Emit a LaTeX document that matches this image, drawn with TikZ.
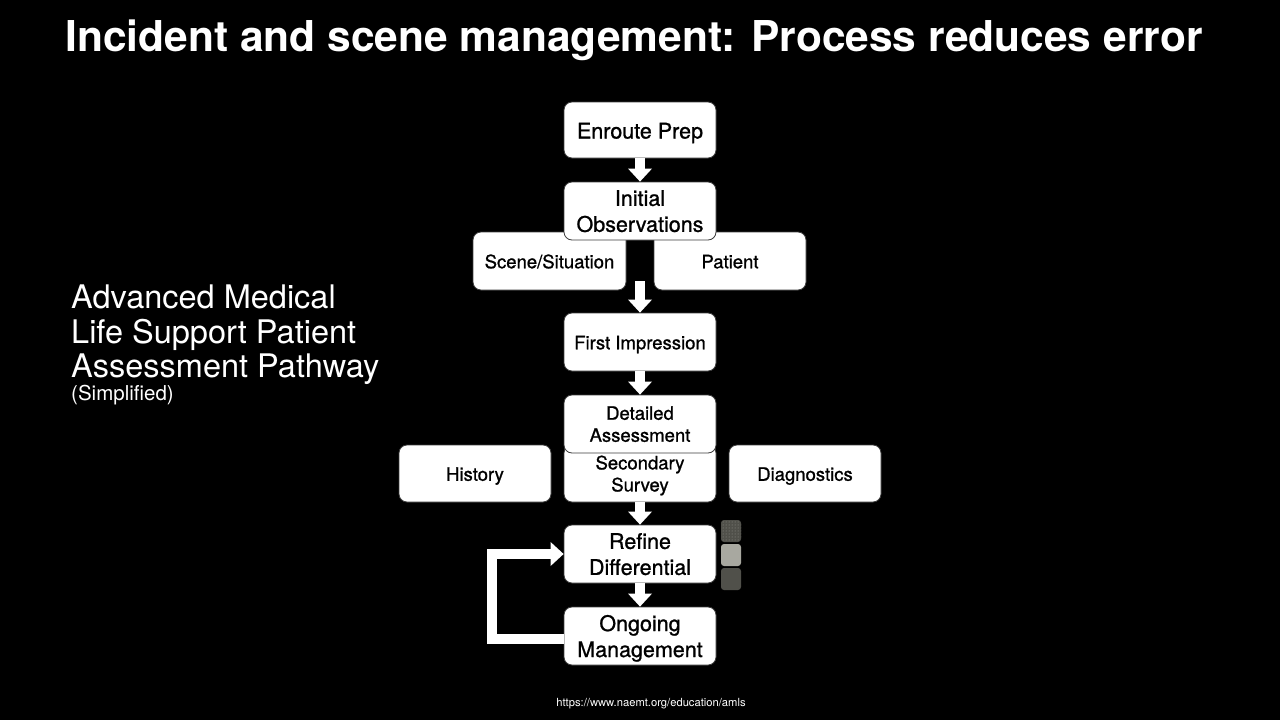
\documentclass[tikz,border=0pt]{standalone}
\usepackage{fontspec}
\setmainfont{TeX Gyre Heros}
\newfontfamily\medfont[FakeBold=1]{TeX Gyre Heros}
\usetikzlibrary{arrows.meta,patterns}
\definecolor{sqdark}{RGB}{80,80,74}
\definecolor{sqlight}{RGB}{168,168,160}
\definecolor{sqdot}{RGB}{150,150,145}
\definecolor{boxline}{RGB}{60,60,60}
\tikzset{
  box/.style={draw=boxline, line width=0.8pt, fill=white, rounded corners=8pt,
    minimum width=152pt, minimum height=58pt, inner sep=0pt, align=center,
    text=black},
  bigtxt/.style={font=\medfont\fontsize{21.5}{26}\selectfont},
  smalltxt/.style={font=\medfont\fontsize{18.5}{22}\selectfont},
  onebig/.style={bigtxt, text height=17pt, text depth=0pt},
  onesmall/.style={smalltxt, text height=14.5pt, text depth=0pt},
  twoline/.style={text depth=-1pt},
  blockarrow/.style={draw=white, line width=10pt,
    -{Triangle[width=24pt,length=13pt,line width=0pt]}},
  looparrow/.style={blockarrow, line join=miter},
  sidetxt/.style={text=white, anchor=base west, inner sep=0pt,
    font=\fontsize{32.5}{34}\selectfont},
  sq/.style={rounded corners=3pt},
}
\begin{document}
\begin{tikzpicture}[x=1pt,y=-1pt]
\fill[black] (0,0) rectangle (1280,720);
\useasboundingbox (0,0) rectangle (1280,720);

% title
\node[text=white, anchor=base, inner sep=0pt,
  font=\fontsize{42.5}{46}\selectfont\bfseries] (title) at (634,51)
  {Incident and scene management: Process reduces error};

% side text
\node[sidetxt] (s1) at (71,308) {Advanced Medical};
\node[sidetxt] (s2) at (71,343) {Life Support Patient};
\node[sidetxt] (s3) at (71,377) {Assessment Pathway};
\node[sidetxt, font=\fontsize{20.5}{22}\selectfont] (s4) at (71,400) {(Simplified)};

% boxes (background ones first)
\node[box, onebig, minimum height=56pt] (enroute) at (640,130) {Enroute Prep};
\node[box, onesmall, minimum width=153pt] (scene) at (549.5,261) {Scene/Situation};
\node[box, onesmall] (patient) at (730,261) {Patient};
\node[box, bigtxt, twoline] (initobs) at (640,211) {Initial\\Observations};
\node[box, onesmall] (firstimp) at (640,342) {First Impression};
\node[box, onesmall, minimum height=57pt] (history) at (475,473.5) {History};
\node[box, smalltxt, twoline, minimum height=57pt] (secondary) at (640,473.5) {Secondary\\Survey};
\node[box, onesmall, minimum height=57pt] (diag) at (805,473.5) {Diagnostics};
\node[box, smalltxt, twoline] (detail) at (640,424) {Detailed\\Assessment};
\node[box, bigtxt, twoline] (refine) at (640,554) {Refine\\Differential};
\node[box, bigtxt, twoline] (ongoing) at (640,636) {Ongoing\\Management};

% small squares
\fill[sq, sqdark] (721,520) rectangle (741,542);
\fill[sq, pattern=dots, pattern color=sqdot] (721,520) rectangle (741,542);
\fill[sq, sqlight] (721,544) rectangle (741,566);
\fill[sq, sqdark] (721,568) rectangle (741,590);

% connectors
\coordinate (a3) at (640,281);
\draw[blockarrow] (enroute.south) -- (initobs.north);
\draw[blockarrow] (a3) -- (firstimp.north);
\draw[blockarrow] (firstimp.south) -- (detail.north);
\draw[blockarrow] (secondary.south) -- (refine.north);
\draw[blockarrow] (refine.south) -- (ongoing.north);
\draw[looparrow] ([yshift=-3pt]ongoing.west) -- ++(-72,0) |- (refine.west);

% source
\node[text=white, anchor=base, inner sep=0pt, font=\fontsize{11.2}{13}\selectfont]
  (src) at (651,706) {https://www.naemt.org/education/amls};
\end{tikzpicture}
\end{document}
